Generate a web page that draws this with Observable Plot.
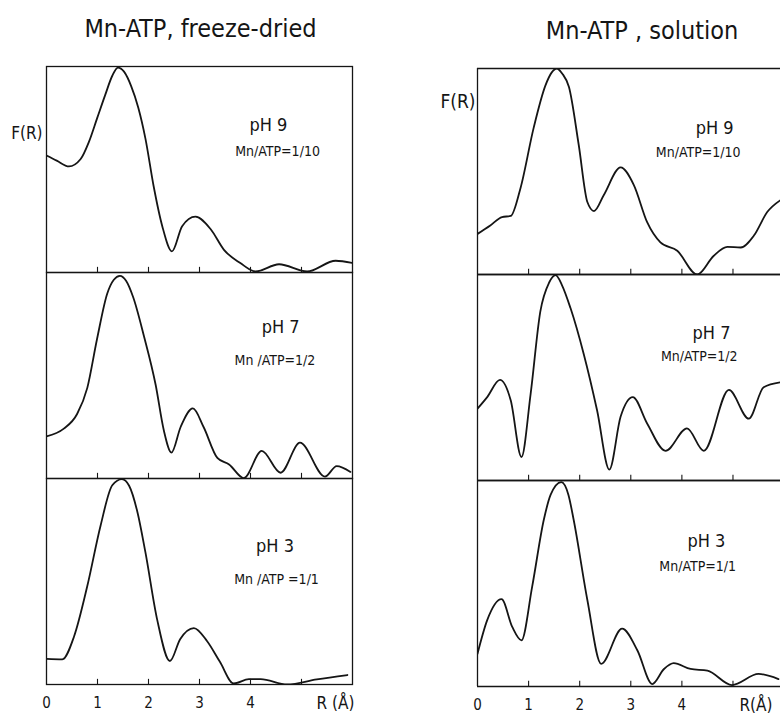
<!DOCTYPE html>
<html><head><meta charset="utf-8">
<script src="https://cdn.jsdelivr.net/npm/d3@7"></script>
<script src="https://cdn.jsdelivr.net/npm/@observablehq/plot@0.6"></script>
<style>
body{margin:0;background:#fff;}
#fig{position:relative;width:780px;height:713px;overflow:hidden;background:#fff;}
#left,#right{position:absolute;top:0;}
#left{left:0px;} #right{left:390px;}
svg text{font-stretch:condensed;}
</style></head><body>
<div id="fig"><div id="left"></div><div id="right"></div></div>
<script>
// ---- data ----
const panels = ["pH 9", "pH 7", "pH 3"];
const xTickLabels = [0, 1, 2, 3, 4];
const innerTicks = [1, 2, 3, 4, 5];

const titleFreeze = "Mn-ATP, freeze-dried";
const titleSolution = "Mn-ATP , solution";

// freeze-dried, pH 9, Mn/ATP = 1/10
const fd9R = [0, 0.2, 0.44, 0.67, 0.83, 0.99, 1.15, 1.29, 1.40, 1.52, 1.66, 1.80, 1.94, 2.10, 2.27, 2.46, 2.66, 2.92, 3.22, 3.48, 3.80, 4.10, 4.56, 5.11, 5.67, 6.0];
const fd9F = [0.568, 0.543, 0.515, 0.551, 0.633, 0.747, 0.861, 0.955, 0.995, 0.975, 0.905, 0.80, 0.65, 0.42, 0.225, 0.103, 0.225, 0.271, 0.21, 0.11, 0.046, 0.005, 0.04, 0.005, 0.057, 0.046];
// freeze-dried, pH 7, Mn/ATP = 1/2
const fd7R = [0, 0.34, 0.60, 0.80, 0.99, 1.19, 1.32, 1.44, 1.56, 1.70, 1.91, 2.14, 2.30, 2.45, 2.63, 2.87, 3.08, 3.35, 3.58, 3.87, 4.22, 4.59, 4.97, 5.46, 5.69, 5.96];
const fd7F = [0.205, 0.242, 0.313, 0.44, 0.676, 0.897, 0.965, 0.984, 0.96, 0.88, 0.692, 0.455, 0.234, 0.126, 0.25, 0.34, 0.25, 0.10, 0.068, 0.002, 0.134, 0.028, 0.174, 0.009, 0.06, 0.032];
// freeze-dried, pH 3, Mn/ATP = 1/1
const fd3R = [0, 0.31, 0.54, 0.80, 1.06, 1.29, 1.48, 1.62, 1.78, 1.94, 2.17, 2.42, 2.62, 2.89, 3.15, 3.40, 3.67, 3.97, 4.2, 4.72, 5.3, 5.9];
const fd3F = [0.124, 0.122, 0.233, 0.478, 0.771, 0.967, 0.997, 0.965, 0.84, 0.641, 0.315, 0.114, 0.22, 0.274, 0.21, 0.11, 0.005, 0.026, 0.026, 0.0, 0.025, 0.046];

// solution, pH 9, Mn/ATP = 1/10
const s9R = [0, 0.25, 0.48, 0.65, 0.84, 1.10, 1.33, 1.45, 1.55, 1.66, 1.79, 1.98, 2.15, 2.28, 2.47, 2.80, 3.06, 3.32, 3.58, 3.91, 4.30, 4.62, 4.89, 5.15, 5.41, 5.67, 5.93];
const s9F = [0.197, 0.238, 0.279, 0.284, 0.418, 0.713, 0.918, 0.98, 1.0, 0.975, 0.91, 0.631, 0.352, 0.308, 0.385, 0.52, 0.434, 0.254, 0.156, 0.115, 0.0, 0.09, 0.134, 0.131, 0.189, 0.303, 0.361];
// solution, pH 7, Mn/ATP = 1/2
const s7R = [0, 0.19, 0.44, 0.65, 0.86, 1.04, 1.23, 1.40, 1.53, 1.65, 1.82, 2.08, 2.34, 2.58, 2.80, 3.04, 3.32, 3.68, 4.10, 4.43, 4.92, 5.31, 5.60, 5.93];
const s7F = [0.349, 0.405, 0.488, 0.389, 0.114, 0.421, 0.821, 0.96, 0.997, 0.95, 0.837, 0.613, 0.341, 0.053, 0.309, 0.405, 0.277, 0.144, 0.253, 0.144, 0.44, 0.30, 0.453, 0.477];
// solution, pH 3, Mn/ATP = 1/1
const s3R = [0, 0.19, 0.47, 0.68, 0.86, 1.07, 1.30, 1.43, 1.64, 1.78, 1.88, 2.15, 2.42, 2.83, 3.13, 3.42, 3.65, 3.84, 4.17, 4.50, 4.98, 5.50, 5.89];
const s3F = [0.159, 0.322, 0.424, 0.289, 0.224, 0.485, 0.812, 0.93, 0.992, 0.93, 0.812, 0.42, 0.11, 0.281, 0.175, 0.012, 0.085, 0.113, 0.085, 0.077, 0.007, 0.061, 0.036];

const ratioFreeze = ["Mn/ATP=1/10", "Mn /ATP=1/2", "Mn /ATP =1/1"];
const ratioSolution = ["Mn/ATP=1/10", "Mn/ATP=1/2", "Mn/ATP=1/1"];

// ---- layout (positions in chart units, not data) ----
const layoutLeft = {
  ph: [[4.35, 0.685], [4.59, 0.706], [4.48, 0.641]],
  ratio: [[4.53, 0.564], [4.48, 0.551], [4.51, 0.49]]
};
const layoutRight = {
  ph: [[4.64, 0.68], [4.58, 0.689], [4.48, 0.675]],
  ratio: [[4.32, 0.569], [4.34, 0.579], [4.31, 0.563]]
};

const FONT = "'DejaVu Sans Condensed', 'Liberation Sans Narrow', 'Arial Narrow', 'DejaVu Sans', sans-serif";
const INK = "#151515";

function rowsOf(Rs, Fs) {
  return panels.flatMap((p, i) => Rs[i].map((r, j) => ({panel: p, r, f: Fs[i][j]})));
}
function labelRows(layout, key, texts) {
  return panels.map((p, i) => ({panel: p, x: layout[key][i][0], y: layout[key][i][1], text: texts[i]}));
}

function column(o) {
  const rows = rowsOf(o.R, o.F);
  const frameMarks = o.fullFrame
    ? [Plot.frame({stroke: INK, strokeWidth: 1.3})]
    : [Plot.ruleY([0, 1], {stroke: INK, strokeWidth: 1.3}), Plot.ruleX([0], {stroke: INK, strokeWidth: 1.3})];
  return Plot.plot({
    width: 390, height: 713,
    marginTop: o.top, marginBottom: 713 - o.bottom, marginLeft: o.left, marginRight: o.right,
    x: {domain: o.xDomain},
    y: {domain: [0, 1], axis: null},
    fy: {domain: panels, padding: 0, axis: null},
    style: {fontFamily: FONT, background: "white", color: INK, overflow: "visible"},
    marks: [
      ...frameMarks,
      Plot.ruleX(innerTicks, {x: d => d, y1: 0, y2: 0.025, stroke: INK, strokeWidth: 1.1}),
      Plot.line(rows, {x: "r", y: "f", fy: "panel", z: "panel", curve: "monotone-x", stroke: INK, strokeWidth: 1.8, clip: true}),
      Plot.text(labelRows(o.layout, "ph", panels), {x: "x", y: "y", fy: "panel", text: "text", fontSize: 18, lineAnchor: "bottom", fill: INK}),
      Plot.text(labelRows(o.layout, "ratio", o.ratio), {x: "x", y: "y", fy: "panel", text: "text", fontSize: 14, lineAnchor: "bottom", fill: INK}),
      Plot.text([{panel: "pH 9", t: o.title}], {fy: "panel", text: "t", frameAnchor: "top", dx: o.titleDx, dy: -30, fontSize: 25, lineAnchor: "bottom", fill: INK}),
      Plot.text([{panel: "pH 9", t: "F(R)"}], {fy: "panel", text: "t", frameAnchor: "top-left", textAnchor: "end", dx: o.frDx, dy: o.frDy, fontSize: o.frSize, lineAnchor: "bottom", fill: INK}),
      Plot.text([{panel: "pH 3", t: o.rLabel}], {fy: "panel", text: "t", frameAnchor: "bottom-right", textAnchor: "end", dx: o.rDx, dy: 24, fontSize: 17, lineAnchor: "bottom", fill: INK}),
      Plot.axisX({ticks: xTickLabels, tickFormat: d => String(d), tickSize: 0, tickPadding: 13, fontSize: 15, label: null, fill: INK})
    ]
  });
}

document.getElementById("left").append(column({
  R: [fd9R, fd7R, fd3R], F: [fd9F, fd7F, fd3F],
  top: 65, bottom: 684, left: 46, right: 38, xDomain: [0, 6], fullFrame: true,
  layout: layoutLeft, ratio: ratioFreeze, title: titleFreeze, titleDx: 1,
  frDx: -4, frDy: 72, frSize: 17, rLabel: "R (Å)", rDx: 2
}));
document.getElementById("right").append(column({
  R: [s9R, s7R, s3R], F: [s9F, s7F, s3F],
  top: 68, bottom: 686, left: 87, right: 0, xDomain: [0, 5.93], fullFrame: false,
  layout: layoutRight, ratio: ratioSolution, title: titleSolution, titleDx: 13,
  frDx: -2, frDy: 39, frSize: 19, rLabel: "R(Å)", rDx: -8
}));
</script>
</body></html>
